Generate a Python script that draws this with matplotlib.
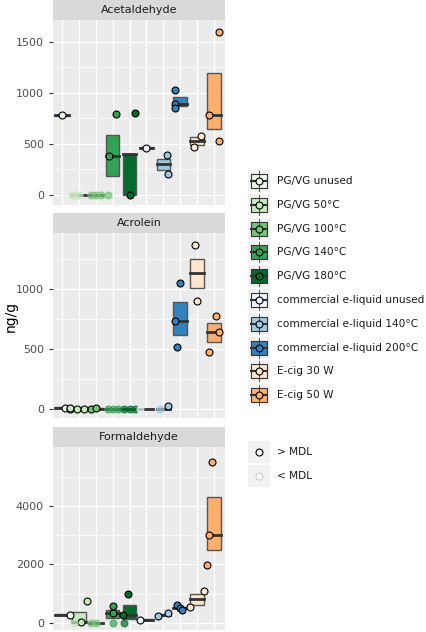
import matplotlib.pyplot as plt
import matplotlib.patches as mpatches

plt.rcParams['font.family'] = ['DejaVu Sans']

groups = ["PG/VG unused", "PG/VG 50°C", "PG/VG 100°C", "PG/VG 140°C", "PG/VG 180°C",
          "commercial e-liquid unused", "commercial e-liquid 140°C",
          "commercial e-liquid 200°C", "E-cig 30 W", "E-cig 50 W"]
colors = ["#edf8e9", "#c7e9c0", "#74c476", "#31a354", "#006d2c",
          "#eff3ff", "#9ecae1", "#3182bd", "#fee6ce", "#fdae6b"]

# boxes: (low, median, high) per group
acet_box = [(775, 778, 781), (0, 0, 0), (0, 0, 0), (190, 380, 590), (0, 400, 400),
            (455, 460, 465), (240, 300, 350), (870, 890, 960), (490, 525, 570), (650, 780, 1190)]
acet_pts = [[(778, 1, 0)], [(0, 0, -0.4), (0, 0, -0.2), (0, 0, 0.0)],
            [(0, 0, -0.3), (0, 0, 0.0), (0, 0, 0.3), (0, 0, 0.7)],
            [(380, 1, -0.2), (789, 1, 0.2)], [(0, 1, 0.0), (805, 1, 0.3)],
            [(460, 1, 0.0)], [(390, 1, 0.2), (205, 1, 0.3)],
            [(1030, 1, -0.3), (890, 1, -0.3), (855, 1, -0.3)],
            [(580, 1, 0.2), (470, 1, -0.2)], [(1590, 1, 0.3), (780, 1, -0.3), (530, 1, 0.3)]]
acro_box = [(12, 15, 18), (3, 5, 8), (3, 5, 8), (0, 0, 0), (0, 0, 0),
            (0, 0, 0), (0, 2, 5), (620, 735, 890), (1010, 1130, 1250), (560, 645, 720)]
acro_pts = [[(15, 1, 0.2), (5, 1, 0.5)], [(10, 1, -0.5), (5, 1, 0.3), (5, 1, -0.1)],
            [(5, 1, -0.3), (10, 1, 0.0)], [(0, 0, -0.3), (0, 0, 0.0), (0, 0, 0.3)],
            [(0, 0, -0.3), (0, 0, 0.0), (0, 0, 0.3)], [(0, 0, -0.4)],
            [(0, 0, -0.2), (25, 1, 0.3)], [(1050, 1, 0.0), (735, 1, -0.3), (520, 1, -0.2)],
            [(1370, 1, -0.1), (900, 1, 0.0)], [(780, 1, 0.1), (645, 1, 0.3), (480, 1, -0.3)]]
form_box = [(270, 280, 290), (0, 30, 370), (0, 0, 0), (150, 320, 430), (120, 270, 600),
            (100, 110, 120), (270, 280, 290), (510, 520, 530), (620, 800, 1000), (2500, 3020, 4300)]
form_pts = [[(270, 1, 0.5)], [(750, 1, 0.5), (30, 1, 0.1), (0, 0, -0.3)],
            [(0, 0, -0.3), (0, 0, 0.0)], [(560, 1, 0.0), (320, 1, 0.0), (0, 0, 0.0)],
            [(1000, 1, -0.1), (250, 1, -0.4), (0, 0, -0.3)], [(110, 1, -0.4)],
            [(220, 1, -0.3), (330, 1, 0.3)], [(620, 1, -0.2), (520, 1, 0.0), (450, 1, 0.1)],
            [(540, 1, -0.4), (1100, 1, 0.4)], [(5500, 1, -0.1), (3020, 1, -0.3), (1980, 1, -0.4)]]

panels = [("Acetaldehyde", acet_box, acet_pts, (-98, 1712), [0, 500, 1000, 1500]),
          ("Acrolein", acro_box, acro_pts, (-72, 1466), [0, 500, 1000]),
          ("Formaldehyde", form_box, form_pts, (-250, 6025), [0, 2000, 4000])]

W, H = 427, 632
fig = plt.figure(figsize=(W / 100, H / 100), dpi=100)
rects = [(20, 205), (233, 418), (447, 630)]
for (title, boxes, pts, ylim, yt), (top, bot) in zip(panels, rects):
    ax = fig.add_axes([53 / W, 1 - bot / H, 172 / W, (bot - top) / H])
    ax.set_facecolor("#ebebeb")
    for s in ax.spines.values():
        s.set_visible(False)
    ax.set_xlim(0.47, 10.65)
    ax.set_ylim(*ylim)
    ax.set_xticks(range(1, 11))
    ax.set_xticklabels([])
    ax.tick_params(axis="x", length=0)
    ax.set_yticks(yt)
    ax.tick_params(axis="y", labelsize=8, labelcolor="#4d4d4d", color="#333333", length=3)
    mids = [(a + b) / 2 for a, b in zip(yt[:-1], yt[1:])]
    mids.append(yt[-1] + (yt[1] - yt[0]) / 2)
    for m in mids:
        ax.axhline(m, color="white", lw=0.5, zorder=0)
    ax.grid(True, color="white", lw=1, zorder=0)
    ax.set_axisbelow(True)
    for i, (lo, med, hi) in enumerate(boxes):
        x = i + 1
        ax.add_patch(mpatches.Rectangle((x - 0.4, lo), 0.8, hi - lo, facecolor=colors[i],
                                        edgecolor="#555555", lw=1, zorder=2))
        ax.plot([x - 0.4, x + 0.4], [med, med], color="#333333", lw=2, zorder=3)
        for v, det, dx in pts[i]:
            ax.plot(x + dx, v, "o", ms=5, mfc=colors[i],
                    mec="black" if det else colors[i], mew=0.8,
                    alpha=1 if det else 0.7, zorder=4)
    sax = fig.add_axes([53 / W, 1 - (top) / H, 172 / W, 20 / H])
    sax.set_facecolor("#d9d9d9")
    sax.set_xticks([])
    sax.set_yticks([])
    for s in sax.spines.values():
        s.set_visible(False)
    sax.text(0.5, 0.5, title, ha="center", va="center", fontsize=8, color="#1a1a1a",
             transform=sax.transAxes)

fig.text(11 / W, 0.5, "ng/g", rotation=90, ha="center", va="center", fontsize=10)

# legend
lax = fig.add_axes([0, 0, 1, 1])
lax.set_xlim(0, W)
lax.set_ylim(H, 0)
lax.axis("off")
for i, (g, c) in enumerate(zip(groups, colors)):
    y = 181 + i * 23.8
    lax.add_patch(mpatches.Rectangle((248, y - 11), 22, 22, facecolor="#f2f2f2", edgecolor="none"))
    lax.plot([259, 259], [y - 10, y + 10], color="#333333", lw=0.6)
    lax.add_patch(mpatches.Rectangle((251, y - 7), 16, 14, facecolor=c, edgecolor="#333333", lw=0.8))
    lax.plot([251, 267], [y, y], color="#333333", lw=1.5)
    lax.plot(259, y, "o", ms=5, mfc=c, mec="black", mew=0.8)
    lax.text(277, y, g, va="center", fontsize=7.6, color="#1a1a1a")
for j, (lab, ec) in enumerate([("> MDL", "black"), ("< MDL", "#c8c8c8")]):
    y = 452 + j * 24
    lax.add_patch(mpatches.Rectangle((248, y - 11), 22, 22, facecolor="#f2f2f2", edgecolor="none"))
    lax.plot(259, y, "o", ms=5, mfc="white", mec=ec, mew=0.8)
    lax.text(277, y, lab, va="center", fontsize=7.6, color="#1a1a1a")

fig.savefig("out.png", dpi=100)
